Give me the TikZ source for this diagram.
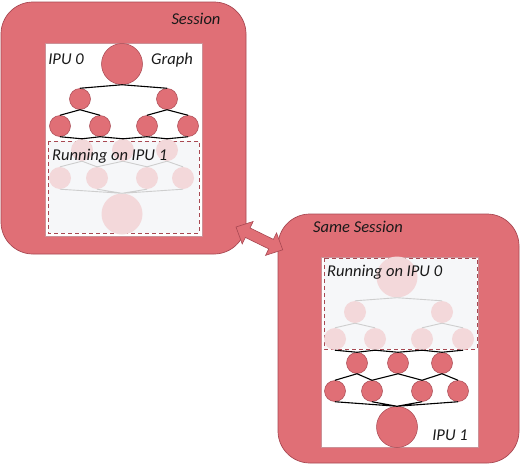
\documentclass[tikz,border=0pt]{standalone}
\usepackage{fontspec}
\setmainfont{Carlito}
\usepackage{xcolor}
\usetikzlibrary{positioning, calc}

\definecolor{ipured}{RGB}{224,111,118}
\definecolor{ipuedge}{RGB}{168,72,82}
\definecolor{ghostred}{RGB}{243,216,218}
\definecolor{ghostline}{RGB}{206,206,206}
\definecolor{runfill}{RGB}{246,247,249}

\tikzset{
  session/.style={draw=ipuedge, fill=ipured, rounded corners=32pt, line width=0.7pt},
  panel/.style={draw=ipuedge!60, fill=white, line width=0.5pt},
  runbox/.style={draw=ipuedge, dash pattern=on 4pt off 3pt, fill=runfill, line width=0.9pt},
  op/.style={circle, draw=ipuedge, fill=ipured, minimum size=21pt, inner sep=0pt, line width=0.5pt},
  ghost/.style={circle, fill=ghostred, minimum size=22pt, inner sep=0pt},
  link/.style={line width=1.1pt, black},
  ghostlink/.style={line width=0.9pt, ghostline},
  lbl/.style={font=\fontsize{16.5}{19}\selectfont\itshape, text=black!90, inner sep=0pt}
}

\begin{document}
\begin{tikzpicture}[x=1pt, y=-1pt]
    \useasboundingbox (0,0) rectangle (520,464);

    \draw[session] (1,2) rectangle (246,254);
    \draw[session] (278,214) rectangle (519,463);

    \draw[panel] (45,43) rectangle (202,236);
    \draw[panel] (321,257) rectangle (478,447);

    \draw[runbox] (48,141) rectangle (199,233);
    \draw[runbox] (324,258) rectangle (477,349);

    \foreach \p/\dx/\dy/\up/\low/\uplink/\lowlink in {a/0/0/op/ghost/link/ghostlink, b/275/213/ghost/op/ghostlink/link} {
      \node[\up, minimum size=41pt] (\p1) at (122+\dx,64+\dy) {};
      \node[\up] (\p21) at (80+\dx,99+\dy) {};
      \node[\up] (\p22) at (167+\dx,99+\dy) {};
      \node[\up] (\p31) at (60+\dx,126+\dy) {};
      \node[\up] (\p32) at (100+\dx,126+\dy) {};
      \node[\up] (\p33) at (147+\dx,126+\dy) {};
      \node[\up] (\p34) at (188+\dx,126+\dy) {};
      \node[\low] (\p41) at (82+\dx,150+\dy) {};
      \node[\low] (\p42) at (123+\dx,150+\dy) {};
      \node[\low] (\p43) at (167+\dx,150+\dy) {};
      \node[\low] (\p51) at (60+\dx,178+\dy) {};
      \node[\low] (\p52) at (97+\dx,178+\dy) {};
      \node[\low] (\p53) at (147+\dx,178+\dy) {};
      \node[\low] (\p54) at (183+\dx,178+\dy) {};
      \node[\low, minimum size=41pt] (\p6) at (122+\dx,214+\dy) {};

      \draw[\uplink] (\p1.south) -- (\p21.north) (\p1.south) -- (\p22.north);
      \draw[\uplink] (\p21.south) -- (\p31.north) (\p21.south) -- (\p32.north);
      \draw[\uplink] (\p22.south) -- (\p33.north) (\p22.south) -- (\p34.north);
      \draw[link] (\p31.south) -- (\p41.north) -- (\p32.south) -- (\p42.north)
        -- (\p33.south) -- (\p43.north) -- (\p34.south);
      \draw[\lowlink] (\p51.north) -- (\p41.south) -- (\p52.north) -- (\p42.south)
        -- (\p53.north) -- (\p43.south) -- (\p54.north);
      \draw[\lowlink] (\p51.south) -- (\p6.north) (\p52.south) -- (\p6.north)
        (\p53.south) -- (\p6.north) (\p54.south) -- (\p6.north);
    }

    \node[lbl] (sess) at (196,19) {Session};
    \node[lbl] (ipu0) at (66,59) {IPU 0};
    \node[lbl] (graph) at (172,60) {Graph};
    \node[lbl, anchor=west] (run1) at (52,156) {Running on IPU 1};
    \node[lbl] (same) at (358,227) {Same Session};
    \node[lbl, anchor=west] (run0) at (327,272) {Running on IPU 0};
    \node[lbl] (ipu1) at (450,435) {IPU 1};

    \coordinate (tipA) at (236,227);
    \coordinate (tipB) at (283,250);
    \begin{scope}[shift={(tipA)}, rotate=-26]
      \draw[fill=ipured, draw=ipuedge, line width=0.6pt] (0,0) -- (13,12.5) -- (13,5.3) -- (39,5.3)
        -- (39,12.5) -- (52,0) -- (39,-12.5) -- (39,-5.3) -- (13,-5.3) -- (13,-12.5) -- cycle;
    \end{scope}
  \end{tikzpicture}
\end{document}
